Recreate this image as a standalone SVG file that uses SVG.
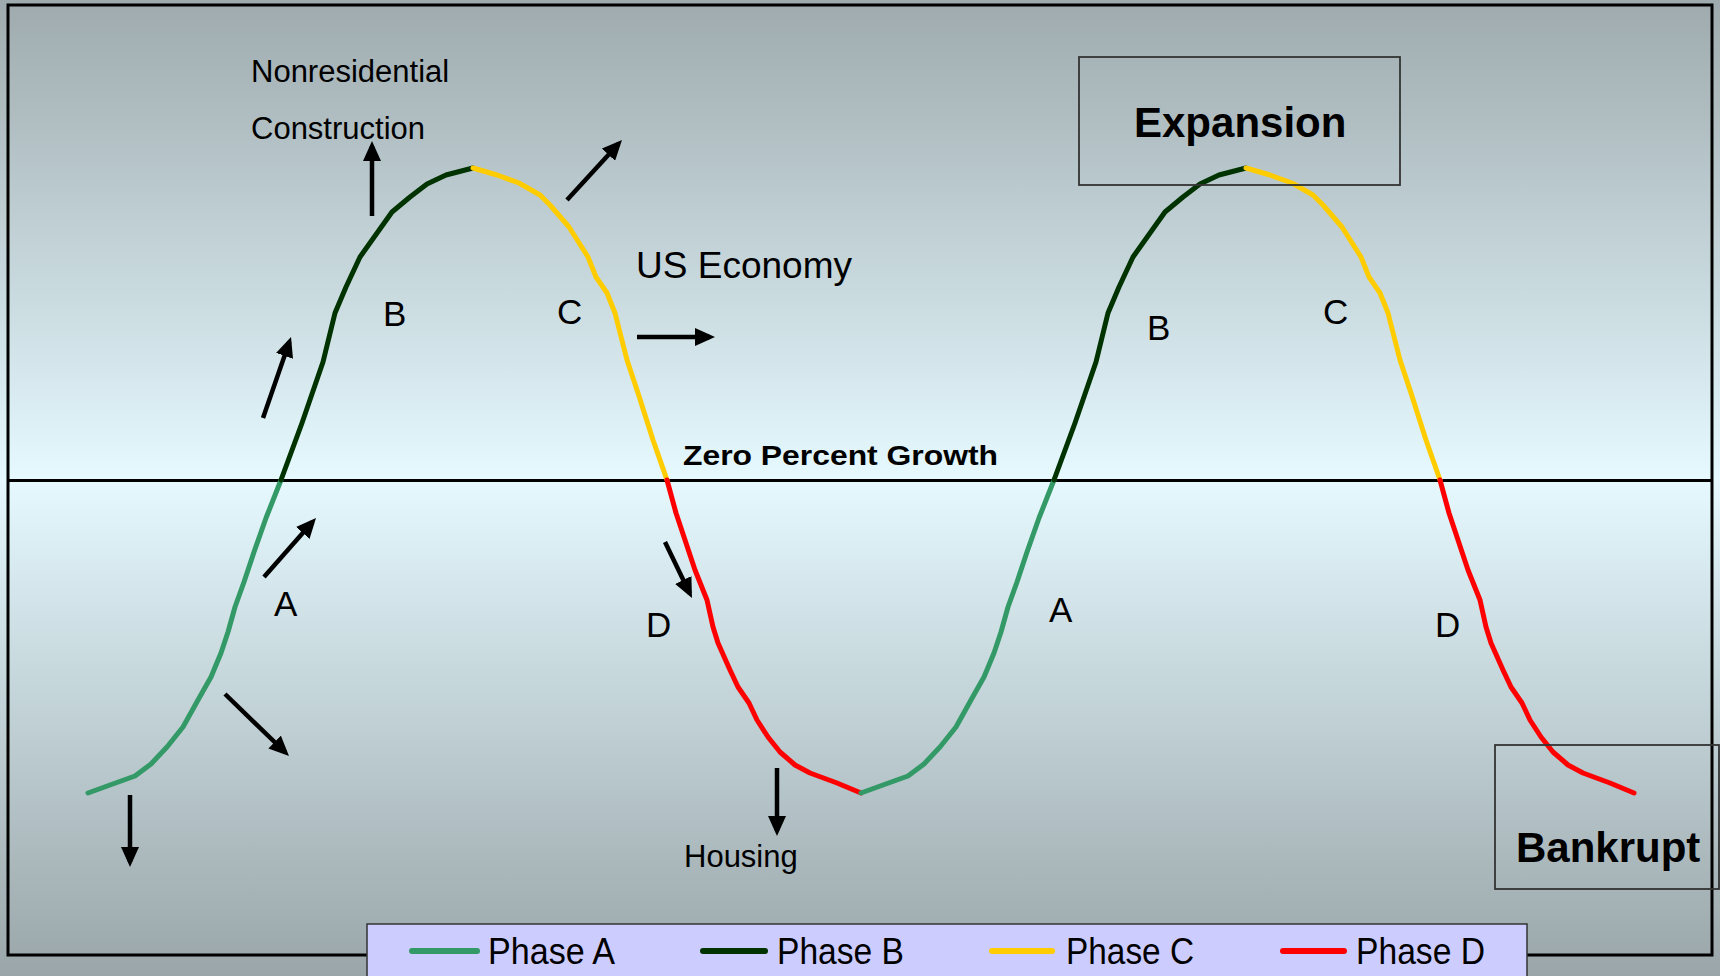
<svg xmlns="http://www.w3.org/2000/svg" width="1720" height="976" viewBox="0 0 1720 976">
  <defs>
    <linearGradient id="bg" gradientUnits="userSpaceOnUse" x1="0" y1="0" x2="0" y2="976">
      <stop offset="0" stop-color="#9eaaae"/>
      <stop offset="0.49" stop-color="#e5f9fe"/>
      <stop offset="1" stop-color="#99a5a9"/>
    </linearGradient>
    <marker id="ah" viewBox="0 0 20 18" markerWidth="20" markerHeight="18" markerUnits="userSpaceOnUse" refX="15" refY="9" orient="auto">
      <path d="M0,0 L20,9 L0,18 z" fill="#000"/>
    </marker>
  </defs>
  <style>
    .seg { fill: none; stroke-width: 5; stroke-linecap: round; stroke-linejoin: round; }
    .pa { stroke: #339966; }
    .pb { stroke: #003300; }
    .pc { stroke: #ffcc00; }
    .pd { stroke: #ff0000; }
    .arrow { stroke: #000; stroke-width: 4.5; fill: none; marker-end: url(#ah); }
    .t { font-family: "Liberation Sans", Arial, sans-serif; fill: #000; }
    .lbl { font-size: 35px; }
    .b { font-weight: bold; }
    .box { fill: none; stroke: #333; stroke-width: 1.8; }
    .leg { stroke-width: 6; stroke-linecap: round; fill: none; }
  </style>

  <rect x="0" y="0" width="1720" height="976" fill="url(#bg)"/>

  <g id="frame">
    <rect x="8" y="5" width="1704" height="950" fill="none" stroke="#000" stroke-width="3"/>
  </g>

  <g id="zero-line">
    <line x1="8" y1="480.5" x2="1712" y2="480.5" stroke="#000" stroke-width="3"/>
    <text class="t b" x="683" y="465" font-size="28" textLength="315" lengthAdjust="spacingAndGlyphs">Zero Percent Growth</text>
  </g>

  <g id="curve">
    <g id="cycle1">
      <polyline class="seg pa" points="88,793 110,785 135,776 151,764 167,747 183,727 198,700 211,677 221,653 228,632 235,607 244,582 254,552 266,518 281,480"/>
      <polyline class="seg pb" points="281,480 302,423 323,362 335,313 346,287 360,257 392,212 410,197 427,184 446,175 473,168"/>
      <polyline class="seg pc" points="473,168 497,175 519,183 540,195 550,205 569,227 588,257 596,277 607,293 615,313 627,360 638,393 653,440 667,480"/>
      <polyline class="seg pd" points="667,480 676,513 695,570 707,600 713,627 718,643 730,670 738,687 749,703 757,720 768,737 780,752 795,765 810,773 837,783 861,793"/>
    </g>
    <g id="cycle2" transform="translate(773,0)">
      <polyline class="seg pa" points="88,793 110,785 135,776 151,764 167,747 183,727 198,700 211,677 221,653 228,632 235,607 244,582 254,552 266,518 281,480"/>
      <polyline class="seg pb" points="281,480 302,423 323,362 335,313 346,287 360,257 392,212 410,197 427,184 446,175 473,168"/>
      <polyline class="seg pc" points="473,168 497,175 519,183 540,195 550,205 569,227 588,257 596,277 607,293 615,313 627,360 638,393 653,440 667,480"/>
      <polyline class="seg pd" points="667,480 676,513 695,570 707,600 713,627 718,643 730,670 738,687 749,703 757,720 768,737 780,752 795,765 810,773 837,783 861,793"/>
    </g>
  </g>

  <g id="connectors">
    <line class="arrow" x1="130" y1="795" x2="130" y2="862"/>
    <line class="arrow" x1="225" y1="694" x2="285.4" y2="752.5"/>
    <line class="arrow" x1="264" y1="577" x2="312.7" y2="521.7"/>
    <line class="arrow" x1="263" y1="418" x2="289.4" y2="341.7"/>
    <line class="arrow" x1="372" y1="216" x2="372" y2="146"/>
    <line class="arrow" x1="567" y1="200" x2="618.6" y2="143.7"/>
    <line class="arrow" x1="637" y1="337" x2="710" y2="337"/>
    <line class="arrow" x1="665" y1="542" x2="689.8" y2="593.5"/>
    <line class="arrow" x1="777" y1="768" x2="777" y2="831"/>
  </g>

  <g id="labels">
    <text class="t" x="251" y="82" font-size="31">Nonresidential</text>
    <text class="t" x="251" y="139" font-size="31">Construction</text>
    <text class="t" x="636" y="278" font-size="36" textLength="216" lengthAdjust="spacingAndGlyphs">US Economy</text>
    <text class="t" x="684" y="867" font-size="31">Housing</text>
    <text class="t lbl" x="383" y="326">B</text>
    <text class="t lbl" x="557" y="324">C</text>
    <text class="t lbl" x="274" y="616">A</text>
    <text class="t lbl" x="646" y="637">D</text>
    <text class="t lbl" x="1049" y="622">A</text>
    <text class="t lbl" x="1147" y="340">B</text>
    <text class="t lbl" x="1323" y="324">C</text>
    <text class="t lbl" x="1435" y="637">D</text>
  </g>

  <g id="expansion">
    <rect class="box" x="1079" y="57" width="321" height="128"/>
    <text class="t b" x="1134" y="137" font-size="42">Expansion</text>
  </g>

  <g id="bankrupt">
    <rect class="box" x="1495" y="745" width="224" height="144"/>
    <text class="t b" x="1516" y="862" font-size="42">Bankrupt</text>
  </g>

  <g id="legend">
    <rect x="367" y="924" width="1160" height="62" fill="#ccccff" stroke="#333" stroke-width="1.5"/>
    <line class="leg pa" x1="412" y1="951" x2="477" y2="951"/>
    <text class="t" x="488" y="964" font-size="36" textLength="127" lengthAdjust="spacingAndGlyphs">Phase A</text>
    <line class="leg pb" x1="703" y1="951" x2="765" y2="951"/>
    <text class="t" x="777" y="964" font-size="36" textLength="127" lengthAdjust="spacingAndGlyphs">Phase B</text>
    <line class="leg pc" x1="992" y1="951" x2="1052" y2="951"/>
    <text class="t" x="1066" y="964" font-size="36" textLength="128" lengthAdjust="spacingAndGlyphs">Phase C</text>
    <line class="leg pd" x1="1283" y1="951" x2="1344" y2="951"/>
    <text class="t" x="1356" y="964" font-size="36" textLength="129" lengthAdjust="spacingAndGlyphs">Phase D</text>
  </g>
</svg>
